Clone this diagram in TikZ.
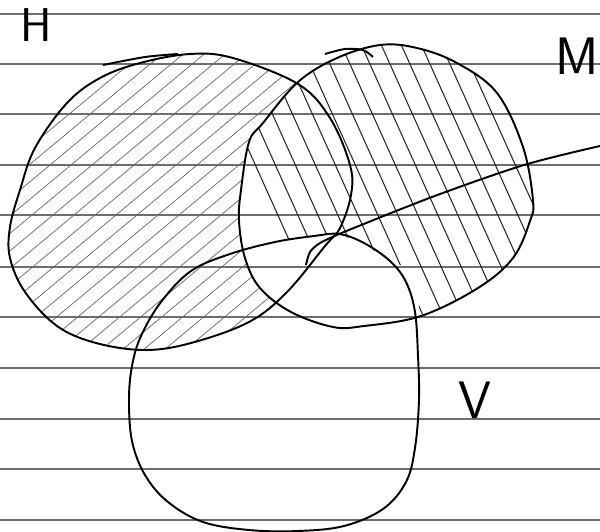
\documentclass[tikz,border=0pt]{standalone}
\usepackage{xcolor}
\usetikzlibrary{math}
\definecolor{paperline}{RGB}{110,110,110}

% outlines of the three sets (pixel units, y pointing down)
\def\Hblob{plot[smooth cycle, tension=0.6] coordinates {(10,227) (20,190) (35,148) (67,103) (100,78) (140,63) (190,54) (233,58) (298,84) (330,118) (350,165) (351,195) (340,228) (325,246) (287,292) (249,322) (191,343) (145,350) (96,343) (57,326) (25,292) (10,258)}}
\def\Mblob{plot[smooth cycle, tension=0.6] coordinates {(241,190) (249,142) (263,123) (298,82) (337,58) (380,45) (417,48) (457,63) (497,93) (523,147) (533,200) (530,221) (513,258) (478,288) (421,316) (364,326) (333,327) (291,312) (260,288) (245,258) (239,221)}}
\def\Vblob{plot[smooth cycle, tension=0.6] coordinates {(339,234) (364,243) (390,261) (406,282) (415,312) (418,356) (419,400) (415,448) (406,482) (383,509) (344,526) (298,531) (249,530) (203,522) (168,502) (145,475) (132,441) (129,400) (132,366) (141,336) (161,302) (191,271) (230,254) (275,242) (314,236)}}

\tikzset{
  outline/.style={line width=1.1pt, black},
  hatchH/.style={line width=0.4pt, black!60},
  hatchM/.style={line width=0.6pt, black!85},
  paper/.style={line width=0.6pt, paperline},
  lbl/.style={font=\sffamily\fontsize{30}{30}\selectfont, inner sep=0pt}
}

\begin{document}
\begin{tikzpicture}[x=0.02cm, y=-0.02cm]
\useasboundingbox (0,0) rectangle (600,532);

%paper
\foreach \yy in {14,64,114,165,215,267,317,368,419,469,520}
  \draw[paper] (0,\yy) -- (600,\yy);

%hatching of H without M
\begin{scope}[even odd rule]
\clip \Hblob;
\clip (-10,-10) rectangle (610,540) \Mblob;
\foreach \i in {0,...,36}
  \draw[hatchH] (\i*21-250,380) -- ++(480,-400);
\end{scope}

%hatching of M
\begin{scope}[even odd rule]
\clip \Mblob;
\clip (-10,-10) rectangle (610,540)
  (230,250) -- (275,242) -- (314,236) -- (340,234) -- (365,245) -- (392,262) -- (419,272) -- (419,340) -- (230,340) -- cycle;
\foreach \i in {0,...,19}
  \draw[hatchM] (200+\i*20,42) -- ++(135,300);
\end{scope}

%sets
\draw[outline] \Hblob;
\draw[outline] \Mblob;
\draw[outline] \Vblob;

%extra strokes
\coordinate (Htop) at (103,65);
\coordinate (Mtop) at (325,54);
\coordinate (cut) at (600,146);
\coordinate (mid) at (339,234);
\draw[outline] plot[smooth] coordinates {(Htop) (145,57) (178,54)};
\draw[outline] plot[smooth] coordinates {(Mtop) (345,49) (363,50) (373,57)};
\draw[outline] plot[smooth] coordinates {(cut) (524,165) (432,197) (mid)};
\draw[outline] plot[smooth] coordinates {(mid) (320,243) (310,252) (306,265)};

%labels
\node[lbl, font=\sffamily\fontsize{27}{27}\selectfont] (labH) at (36,25) {H};
\node[lbl] (labM) at (577,56) {M};
\node[lbl] (labV) at (475,400) {V};
\end{tikzpicture}
\end{document}
